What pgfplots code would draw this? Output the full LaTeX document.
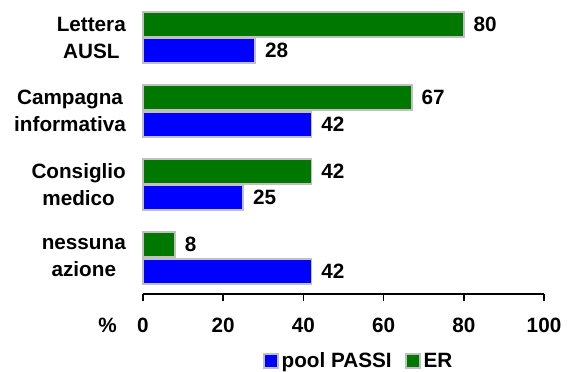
\documentclass[border=0pt]{standalone}
\usepackage{fontspec}
\setmainfont{Liberation Sans}
\usepackage{pgfplots}
\pgfplotsset{compat=1.18}
\definecolor{barblue}{RGB}{0,0,255}
\definecolor{bargreen}{RGB}{0,120,0}
\definecolor{barborder}{RGB}{192,192,192}
\newcommand{\chartfont}{\fontsize{20.7bp}{27bp}\selectfont\bfseries}
\begin{document}
\begin{tikzpicture}
\begin{axis}[
  scale only axis, width=401bp, height=290bp,
  xmin=0, xmax=100, ymin=-0.49, ymax=3.456,
  xbar, bar width=0.338,
  axis x line*=bottom, axis y line*=left,
  y axis line style={draw=none},
  x axis line style={line width=1.6bp, black},
  xtick={0,20,...,100}, xtick align=outside, major tick length=7bp,
  xtick style={line width=1.6bp, black},
  ytick={0,1,2,3}, ytick style={draw=none},
  yticklabels={{nessuna\\azione},{Consiglio\\medico},{Campagna\\informativa},{Lettera\\AUSL}},
  yticklabel style={align=center, font=\chartfont, anchor=east, inner sep=0pt, xshift=-10bp},
  xticklabel style={font=\chartfont, inner sep=0pt, anchor=north, yshift=-17bp},
  /pgf/number format/assume math mode=true,
  xlabel={\%},
  xlabel style={at={(rel axis cs:0,0)}, anchor=center, xshift=-35.5bp, yshift=-31.5bp, font=\chartfont, inner sep=0pt},
  nodes near coords,
  nodes near coords style={font=\chartfont, anchor=west, inner sep=0pt, xshift=9bp},
  clip=false,
  legend columns=2,
  legend style={at={(rel axis cs:0.5387,-0.231)}, anchor=center, draw=none, fill=none, font=\chartfont,
    nodes={inner xsep=3bp, inner ysep=0pt},
    /tikz/every even column/.append style={column sep=10bp}},
]
\addplot[fill=barblue, draw=barborder, line width=1.8bp, bar shift=-0.18,
  legend image code/.code={\draw[fill=barblue, draw=barborder, line width=2bp] (0bp,-7bp) rectangle (14bp,7bp);}]
  coordinates {(42,0) (25,1) (42,2) (28,3)};
\addlegendentry{pool PASSI}
\addplot[fill=bargreen, draw=barborder, line width=1.8bp, bar shift=0.18,
  legend image code/.code={\draw[fill=bargreen, draw=barborder, line width=2bp] (0bp,-7bp) rectangle (14bp,7bp);}]
  coordinates {(8,0) (42,1) (67,2) (80,3)};
\addlegendentry{ER}
\path (rel axis cs:-0.3566,1.0138) rectangle (rel axis cs:1.0623,-0.2655);
\end{axis}
\end{tikzpicture}
\end{document}
